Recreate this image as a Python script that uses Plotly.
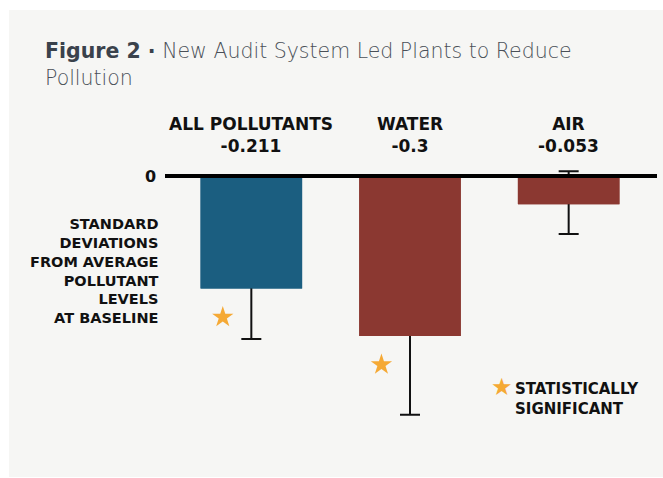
import plotly.graph_objects as go

W, H = 663, 478

categories = ["ALL POLLUTANTS", "WATER", "AIR"]
values = [-0.211, -0.3, -0.053]
value_labels = ["-0.211", "-0.3", "-0.053"]
err_plus = [0.095, 0.148, 0.062]
err_minus = [0.095, 0.148, 0.056]
significant = [True, True, False]
bar_colors = ["#1b5e80", "#8b3831", "#8b3831"]

FONT = "DejaVu Sans"
STAR = "#f5a935"

def px_x(p):
    return p / W

def px_y(p):
    return 1 - p / H

idx = list(range(len(categories)))

fig = go.Figure()
fig.add_trace(go.Bar(
    x=idx, y=values, marker=dict(color=bar_colors, line=dict(width=0)),
    width=0.64,
    error_y=dict(type="data", symmetric=False, array=err_plus, arrayminus=err_minus,
                 color="#111111", thickness=2, width=10),
    showlegend=False, hoverinfo="skip"))
fig.add_trace(go.Bar(
    x=idx, y=values, marker=dict(color=bar_colors, line=dict(width=0)),
    width=0.64, showlegend=False, hovertext=categories))

sx = [i - 0.18 for i, s in zip(idx, significant) if s]
sy = [v - 0.054 for v, s in zip(values, significant) if s]
fig.add_trace(go.Scatter(x=sx, y=sy, mode="markers",
                         marker=dict(symbol="star", size=16, color=STAR, line=dict(width=0)),
                         showlegend=False, hoverinfo="skip"))

annotations = []
annotations.append(dict(
    xref="paper", yref="paper", x=px_x(43), y=px_y(37), xanchor="left", yanchor="top",
    align="left", showarrow=False,
    text="<b>Figure 2 ·</b> <span style='font-weight:200;color:#4a5058'>New Audit System Led Plants to Reduce<br>Pollution</span>",
    font=dict(family=FONT, size=20.5, color="#3a424c")))
for i, c, lab in zip(idx, categories, value_labels):
    annotations.append(dict(
        xref="x", yref="paper", x=i, y=px_y(134.5), xanchor="center", yanchor="middle",
        showarrow=False, text=f"{c}<br>{lab}",
        font=dict(family=FONT, size=17, color="#111111", weight="bold")))
annotations.append(dict(xref="paper", yref="y", x=px_x(158), y=0, xanchor="right", yanchor="middle",
                        showarrow=False, text="0",
                        font=dict(family=FONT, size=16, color="#111111", weight="bold")))
annotations.append(dict(xref="paper", yref="paper", x=px_x(161), y=px_y(271), xanchor="right",
                        yanchor="middle", align="right", showarrow=False,
                        text="STANDARD<br>DEVIATIONS<br>FROM AVERAGE<br>POLLUTANT<br>LEVELS<br>AT BASELINE",
                        font=dict(family=FONT, size=14.5, color="#111111", weight="bold")))
annotations.append(dict(xref="paper", yref="paper", x=px_x(502), y=px_y(387), xanchor="center",
                        yanchor="middle", showarrow=False, text="★",
                        font=dict(family=FONT, size=24, color=STAR)))
annotations.append(dict(xref="paper", yref="paper", x=px_x(513), y=px_y(398.5), xanchor="left",
                        yanchor="middle", align="left", showarrow=False,
                        text="STATISTICALLY<br>SIGNIFICANT",
                        font=dict(family=FONT, size=15, color="#111111", weight="bold")))

shapes = [
    dict(type="rect", xref="paper", yref="paper", x0=px_x(9), x1=px_x(663), y0=px_y(477), y1=px_y(10),
         fillcolor="#f6f6f4", line=dict(width=0), layer="below"),
    dict(type="line", xref="paper", yref="y", x0=px_x(165), x1=px_x(657), y0=0, y1=0,
         line=dict(color="#000000", width=4), layer="above"),
]

y_top_px, y_bot_px, zero_px, scale = 150, 440, 176, 533.0
fig.update_layout(
    width=W, height=H, margin=dict(l=0, r=0, t=0, b=0),
    paper_bgcolor="#ffffff", plot_bgcolor="rgba(0,0,0,0)",
    barmode="overlay",
    xaxis=dict(domain=[px_x(172), px_x(648)], range=[-0.5, 2.5], visible=False, fixedrange=True),
    yaxis=dict(domain=[px_y(y_bot_px), px_y(y_top_px)],
               range=[-(y_bot_px - zero_px) / scale, (zero_px - y_top_px) / scale],
               visible=False, fixedrange=True),
    annotations=annotations, shapes=shapes, showlegend=False,
)

fig.write_html("out.html", config={"displayModeBar": False},
               post_script="document.body.style.margin='0px';")
